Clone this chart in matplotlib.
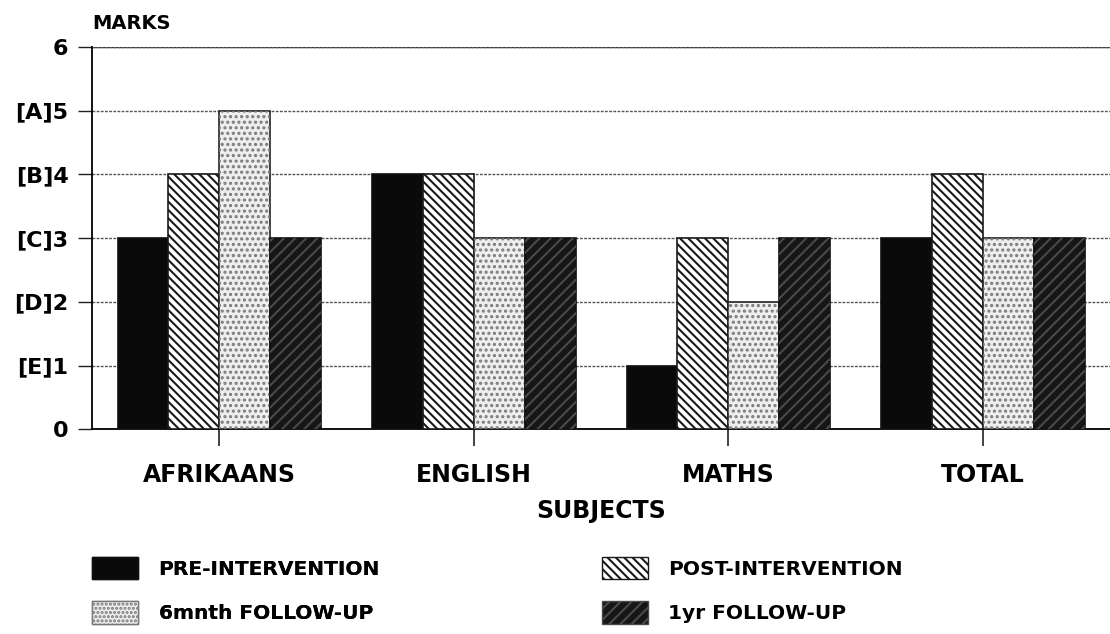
import numpy as np
import matplotlib.pyplot as plt
from matplotlib.patches import Patch

plt.rcParams['font.family'] = ['DejaVu Sans']
plt.rcParams['font.weight'] = 'bold'
plt.rcParams['hatch.linewidth'] = 1.5

subjects = ['AFRIKAANS', 'ENGLISH', 'MATHS', 'TOTAL']
pre = [3, 4, 1, 3]
post = [4, 4, 3, 4]
six_month = [5, 3, 2, 3]
one_year = [3, 3, 3, 3]
series_names = ['PRE-INTERVENTION', 'POST-INTERVENTION', '6mnth FOLLOW-UP', '1yr FOLLOW-UP']
ytick_labels = ['0', '[E]1', '[D]2', '[C]3', '[B]4', '[A]5', '6']

fig = plt.figure(figsize=(11.1, 6.34), dpi=100)
ax = fig.add_axes([0.083, 0.323, 0.917, 0.603])

x = np.arange(len(subjects))
w = 0.2
offs = [-1.5, -0.5, 0.5, 1.5]

ax.bar(x + offs[0] * w, pre, w, color='#0a0a0a', edgecolor='#111111', lw=1.2, zorder=3)
ax.bar(x + offs[1] * w, post, w, color='white', edgecolor='#1a1a1a', hatch='\\\\\\\\', lw=1.2, zorder=3)
ax.bar(x + offs[2] * w, six_month, w, color='#eeeeee', edgecolor='#222222', lw=1.2, zorder=3)
ax.bar(x + offs[2] * w, six_month, w, color='none', edgecolor='#7a7a7a', hatch='...', lw=0, zorder=3)
ax.bar(x + offs[3] * w, one_year, w, color='#161616', edgecolor='#111111', lw=1.2, zorder=3)
ax.bar(x + offs[3] * w, one_year, w, color='none', edgecolor='#4a4a4a', hatch='///', lw=0, zorder=3)

ax.set_xlim(-0.5, 3.5)
ax.set_ylim(0, 6)
ax.set_yticks(range(7))
ax.set_yticklabels(ytick_labels, fontsize=16)
ax.set_xticks(x)
ax.set_xticklabels(subjects, fontsize=17)
ax.tick_params(axis='x', length=12, width=1.2, pad=12, color='#222222')
ax.tick_params(axis='y', length=10, width=1.0, pad=7, color='#222222')
ax.yaxis.grid(True, ls=(0, (2, 1)), lw=1.0, color='#555555', zorder=0)
ax.set_xlabel('SUBJECTS', fontsize=17, fontweight='bold', labelpad=9)

for s in ['top', 'right']:
    ax.spines[s].set_visible(False)
ax.spines['left'].set_linewidth(1.3)
ax.spines['bottom'].set_linewidth(1.3)
ax.axhline(6, color='#333333', lw=1.0, zorder=1)

fig.text(0.083, 0.963, 'MARKS', fontsize=14, fontweight='bold', ha='left', va='center')

h_pre = Patch(facecolor='#0a0a0a', edgecolor='#111111')
h_post = Patch(facecolor='white', edgecolor='#1a1a1a', hatch='\\\\\\\\')
h_six = Patch(facecolor='#eeeeee', edgecolor='#777777', hatch='....')
h_one = Patch(facecolor='#161616', edgecolor='#4a4a4a', hatch='///')

leg_kw = dict(loc='upper left', frameon=False, fontsize=14.5, handlelength=2.3,
              handleheight=1.35, labelspacing=1.1, handletextpad=1.0,
              borderpad=0, borderaxespad=0)
leg1 = fig.legend([h_pre, h_six], [series_names[0], series_names[2]],
                  bbox_to_anchor=(0.083, 0.122), **leg_kw)
fig.add_artist(leg1)
fig.legend([h_post, h_one], [series_names[1], series_names[3]],
           bbox_to_anchor=(0.542, 0.122), **leg_kw)

fig.savefig('out.png', dpi=100)
